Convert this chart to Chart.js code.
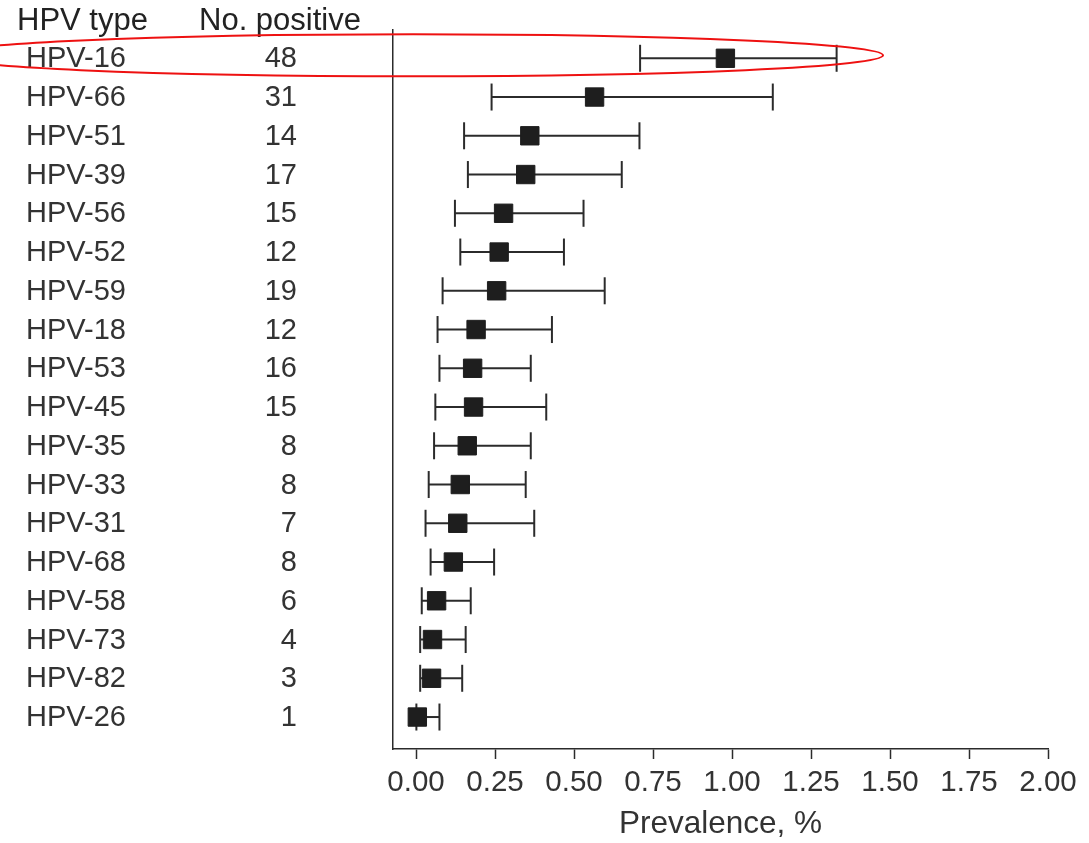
<!DOCTYPE html>
<html>
<head>
<meta charset="utf-8">
<script src="https://cdn.jsdelivr.net/npm/chart.js@4.4.1/dist/chart.umd.min.js"></script>
<style>
html,body{margin:0;padding:0;background:#fff;}
#wrap{width:1089px;height:843px;}
</style>
</head>
<body>
<div id="wrap"><canvas id="c" width="1089" height="843"></canvas></div>
<script>
const hpvTypes = ['HPV-16','HPV-66','HPV-51','HPV-39','HPV-56','HPV-52','HPV-59','HPV-18','HPV-53','HPV-45','HPV-35','HPV-33','HPV-31','HPV-68','HPV-58','HPV-73','HPV-82','HPV-26'];
const numPositive = [48,31,14,17,15,12,19,12,16,15,8,8,7,8,6,4,3,1];
const prevalence = [0.979,0.565,0.360,0.347,0.277,0.263,0.255,0.190,0.179,0.182,0.162,0.140,0.132,0.118,0.065,0.052,0.049,0.004];
const lowerCI = [0.709,0.239,0.152,0.164,0.123,0.140,0.084,0.068,0.074,0.061,0.057,0.040,0.030,0.046,0.018,0.013,0.013,0.001];
const upperCI = [1.331,1.129,0.707,0.651,0.530,0.468,0.597,0.430,0.363,0.412,0.363,0.347,0.374,0.247,0.173,0.157,0.146,0.074];
const xTickValues = [0,0.25,0.5,0.75,1,1.25,1.5,1.75,2];
const headers = ['HPV type','No. positive'];
const xTitle = 'Prevalence, %';

const FONT = "'Liberation Sans', Arial, Helvetica, sans-serif";
const TEXT = '#333333';
const INK = '#2b2b2b';

const datasets = [{
  label: 'Prevalence',
  data: prevalence.map((v, i) => ({x: v, y: i})),
  showLine: false,
  pointStyle: 'rect',
  pointRadius: 13,
  pointBackgroundColor: '#1e1e1e',
  pointBorderColor: '#1e1e1e',
  pointBorderWidth: 1,
  clip: false
}];
hpvTypes.forEach((t, i) => {
  datasets.push({
    label: t + ' CI',
    data: [{x: lowerCI[i], y: i}, {x: upperCI[i], y: i}],
    showLine: true,
    borderColor: INK,
    borderWidth: 2,
    pointStyle: 'line',
    pointRotation: 90,
    pointRadius: 13.5,
    pointBorderColor: INK,
    pointBorderWidth: 2,
    clip: false
  });
});

const columnsPlugin = {
  id: 'columns',
  afterDraw(chart) {
    const ctx = chart.ctx;
    const y = chart.scales.y;
    const x = chart.scales.x;
    ctx.save();
    ctx.fillStyle = TEXT;
    ctx.font = '29px ' + FONT;
    ctx.textBaseline = 'middle';
    hpvTypes.forEach((t, i) => {
      const py = y.getPixelForValue(i) + 1;
      ctx.textAlign = 'left';
      ctx.fillText(t, 26, py);
      ctx.textAlign = 'right';
      ctx.fillText(String(numPositive[i]), 297, py);
    });
    ctx.fillStyle = '#222';
    ctx.font = '31px ' + FONT;
    ctx.textAlign = 'left';
    const hy = y.getPixelForValue(-1) + 2;
    ctx.fillText(headers[0], 17, hy);
    ctx.fillText(headers[1], 199, hy);
    // red highlight ellipse around first row
    const cy = y.getPixelForValue(0) - 3;
    const tip = x.getPixelForValue(1.478);
    const rx = 470;
    const cx = tip - rx;
    ctx.beginPath();
    ctx.ellipse(cx, cy, rx, 21, 0, 0, Math.PI * 2);
    ctx.strokeStyle = '#ee1111';
    ctx.lineWidth = 2;
    ctx.stroke();
    ctx.restore();
  }
};

new Chart(document.getElementById('c'), {
  type: 'scatter',
  data: {datasets},
  plugins: [columnsPlugin],
  options: {
    responsive: false,
    animation: false,
    events: [],
    layout: {padding: {top: 30, right: 41, left: 0, bottom: 0}},
    plugins: {legend: {display: false}, tooltip: {enabled: false}},
    scales: {
      x: {
        type: 'linear',
        min: -0.073,
        max: 2.0,
        afterBuildTicks(scale) { scale.ticks = xTickValues.map(v => ({value: v})); },
        afterFit(scale) { scale.height = 94; },
        grid: {display: true, drawOnChartArea: false, drawTicks: true, tickLength: 10, tickColor: INK, tickWidth: 1.5},
        border: {display: true, color: INK, width: 1.5},
        ticks: {
          color: TEXT,
          font: {family: FONT, size: 29.5},
          padding: 6,
          maxRotation: 0,
          autoSkip: false,
          callback: v => Number(v).toFixed(2)
        },
        title: {display: true, text: xTitle, color: TEXT, align: 'center', font: {family: FONT, size: 31.5}, padding: {top: 0, bottom: 0}}
      },
      y: {
        type: 'linear',
        reverse: true,
        min: -0.73,
        max: 17.825,
        afterFit(scale) { scale.width = 393; },
        grid: {display: false},
        border: {display: true, color: INK, width: 1.5},
        ticks: {display: false}
      }
    }
  }
});
</script>
</body>
</html>
